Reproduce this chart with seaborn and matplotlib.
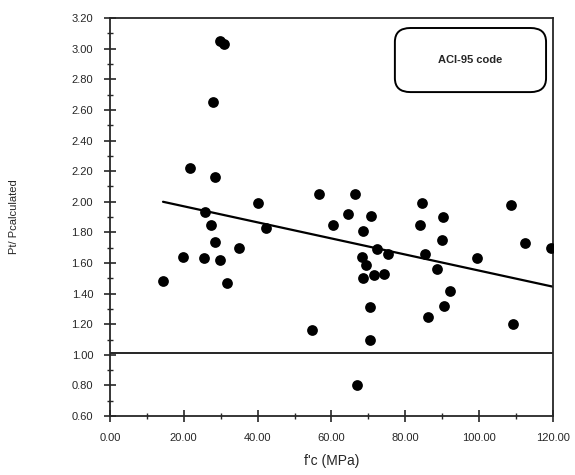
"""
Scatter of Pt/Pcalculated against f'c with the ACI-95 code trend line.
Saves out.png
"""
import pandas as pd
import matplotlib
matplotlib.use('Agg')
import matplotlib.pyplot as plt
from matplotlib.patches import FancyBboxPatch
from matplotlib.ticker import MultipleLocator, FormatStrFormatter
import seaborn as sns

# test points
fc = [14.4, 19.9, 21.7, 25.6, 25.7, 27.4, 28.0, 28.5, 28.5, 29.8,
      29.8, 30.9, 31.6, 35.0, 40.0, 42.3, 54.7, 56.7, 60.5, 64.5,
      66.4, 67.0, 68.2, 68.4, 68.6, 69.4, 70.3, 70.3, 70.6, 71.4,
      72.3, 74.3, 75.3, 84.0, 84.6, 85.4, 86.0, 88.5, 89.9, 90.3,
      90.5, 92.0, 99.5, 108.6, 109.1, 112.5, 119.4]
ratio = [1.48, 1.64, 2.22, 1.63, 1.93, 1.85, 2.65, 2.16, 1.74, 1.62,
         3.05, 3.03, 1.47, 1.70, 1.99, 1.83, 1.16, 2.05, 1.85, 1.92,
         2.05, 0.80, 1.64, 1.81, 1.50, 1.59, 1.31, 1.10, 1.91, 1.52,
         1.69, 1.53, 1.66, 1.85, 1.99, 1.66, 1.25, 1.56, 1.75, 1.90,
         1.32, 1.42, 1.63, 1.98, 1.20, 1.73, 1.70]

# trend line end points and the unity line
trend_x = [14.4, 120.0]
trend_y = [2.00, 1.445]
unity_y = 1.01


def main():
    df = pd.DataFrame({'fc': fc, 'ratio': ratio})
    trend = pd.DataFrame({'fc': trend_x, 'ratio': trend_y})

    sns.set_style('ticks')
    plt.rcParams['font.family'] = ['Liberation Sans', 'DejaVu Sans']

    fig = plt.figure(figsize=(5.75, 4.75), dpi=100)
    ax = fig.add_axes([0.191, 0.124, 0.771, 0.838])

    sns.scatterplot(data=df, x='fc', y='ratio', ax=ax, color='black',
                    s=60, edgecolor='black', linewidth=0, zorder=3)
    sns.lineplot(data=trend, x='fc', y='ratio', ax=ax, color='black',
                 linewidth=1.6)
    ax.axhline(unity_y, color='black', linewidth=1.2)

    ax.set_xlim(0, 120)
    ax.set_ylim(0.6, 3.2)
    ax.xaxis.set_major_locator(MultipleLocator(20))
    ax.xaxis.set_minor_locator(MultipleLocator(10))
    ax.yaxis.set_major_locator(MultipleLocator(0.2))
    ax.yaxis.set_minor_locator(MultipleLocator(0.1))
    ax.xaxis.set_major_formatter(FormatStrFormatter('%.2f'))
    ax.yaxis.set_major_formatter(FormatStrFormatter('%.2f'))
    ax.tick_params(which='major', direction='inout', length=8, width=1.2,
                   labelsize=8, pad=8)
    ax.tick_params(which='minor', direction='inout', length=4, width=1.0)
    for side in ['top', 'right', 'left', 'bottom']:
        ax.spines[side].set_visible(True)
        ax.spines[side].set_linewidth(1.3)

    ax.set_xlabel("f'c (MPa)", fontsize=10, labelpad=8)
    ax.set_ylabel('Pt/ Pcalculated', fontsize=8, labelpad=38)

    box = FancyBboxPatch((0.643, 0.814), 0.341, 0.161,
                         boxstyle='round,pad=0,rounding_size=0.035',
                         transform=ax.transAxes, facecolor='white',
                         edgecolor='black', linewidth=1.4, zorder=4)
    ax.add_patch(box)
    ax.text(0.813, 0.894, 'ACI-95 code', transform=ax.transAxes,
            ha='center', va='center', fontsize=8, fontweight='bold', zorder=5)

    fig.savefig('out.png', dpi=100)
    plt.close(fig)


if __name__ == '__main__':
    main()
